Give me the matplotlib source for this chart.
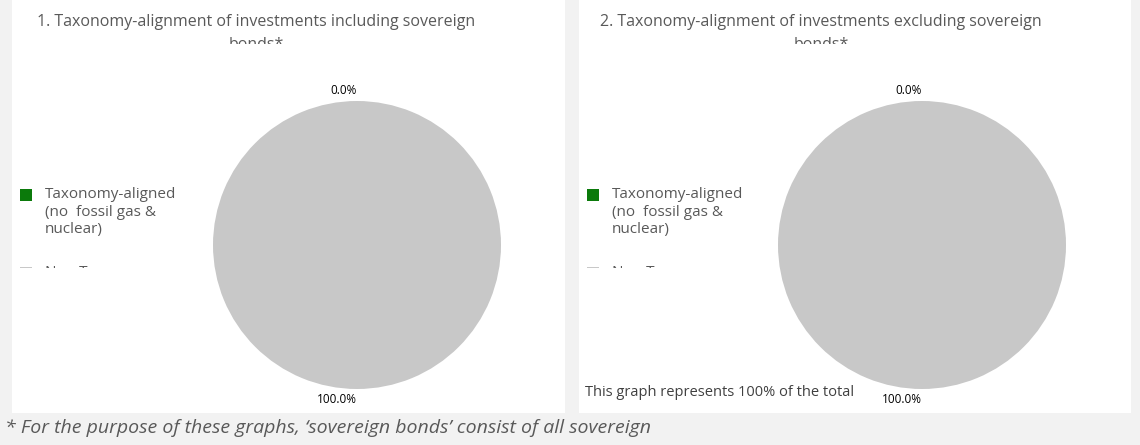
import matplotlib.pyplot as plt
from matplotlib.patches import Rectangle

# data
categories = ["Taxonomy-aligned\n(no  fossil gas &\nnuclear)", "Non Taxonomy-\naligned"]
incl_values = [0.0, 100.0]
excl_values = [0.0, 100.0]
titles = ["1. Taxonomy-alignment of investments including sovereign",
          "2. Taxonomy-alignment of investments excluding sovereign"]
colors = ["#0b7a0b", "#c8c8c8"]

W, H = 1140, 445
fig = plt.figure(figsize=(W / 100, H / 100), dpi=100)
fig.patch.set_facecolor("#f2f2f2")
plt.rcParams['font.family'] = ['Open Sans', 'DejaVu Sans']


def px(x, y):
    # pixel coords (top-left origin) -> figure coords
    return x / W, 1 - y / H


def box(x, y, w, h, color, z):
    # y is the bottom edge in pixels
    fig.patches.append(Rectangle(px(x, y), w / W, h / H, transform=fig.transFigure,
                                 facecolor=color, edgecolor="none", zorder=z))


# white panels
box(12, 413, 553, 413, "white", -2)
box(579, 413, 552, 413, "white", -2)


def panel(x0, cx, tx, title, values):
    # title, second line cut in half like the original
    fig.text(*px(tx, 22), title, ha="center", va="center", fontsize=11.5, color="#595959")
    fig.text(*px(tx, 45), "bonds*", ha="center", va="center", fontsize=11.5, color="#595959")
    box(tx - 120, 68, 240, 24, "white", 5)

    # legend (second entry is cut off in the original)
    box(x0 + 8, 201, 12, 12, colors[0], 1)
    box(x0 + 8, 279, 12, 12, colors[1], 1)
    fig.text(*px(x0 + 33, 187), categories[0], ha="left", va="top", fontsize=11,
             color="#595959", linespacing=1.25)
    fig.text(*px(x0 + 33, 265), categories[1], ha="left", va="top", fontsize=11,
             color="#595959", linespacing=1.25)
    box(x0 + 4, 320, 190, 52, "white", 5)

    # pie
    r = 144
    ax = fig.add_axes([(cx - r) / W, 1 - (245 + r) / H, 2 * r / W, 2 * r / H])
    ax.set_zorder(6)
    ax.pie(values, colors=colors, startangle=90, counterclock=False,
           labels=[f"{v:.1f}%" for v in values], labeldistance=1.07,
           textprops=dict(fontsize=8.5, color="black"))
    ax.set_aspect("equal")
    ax.set_xlim(-1, 1)
    ax.set_ylim(-1, 1)
    ax.axis("off")


panel(12, 357, 256, titles[0], incl_values)
panel(579, 922, 821, titles[1], excl_values)

fig.text(*px(585, 392), "This graph represents 100% of the total", ha="left", va="center",
         fontsize=10.5, color="#404040")
fig.text(*px(5, 428), "* For the purpose of these graphs, \u2018sovereign bonds\u2019 consist of all sovereign",
         ha="left", va="center", fontsize=14, color="#595959", style="italic")

fig.savefig("out.png", dpi=100, facecolor=fig.get_facecolor())
